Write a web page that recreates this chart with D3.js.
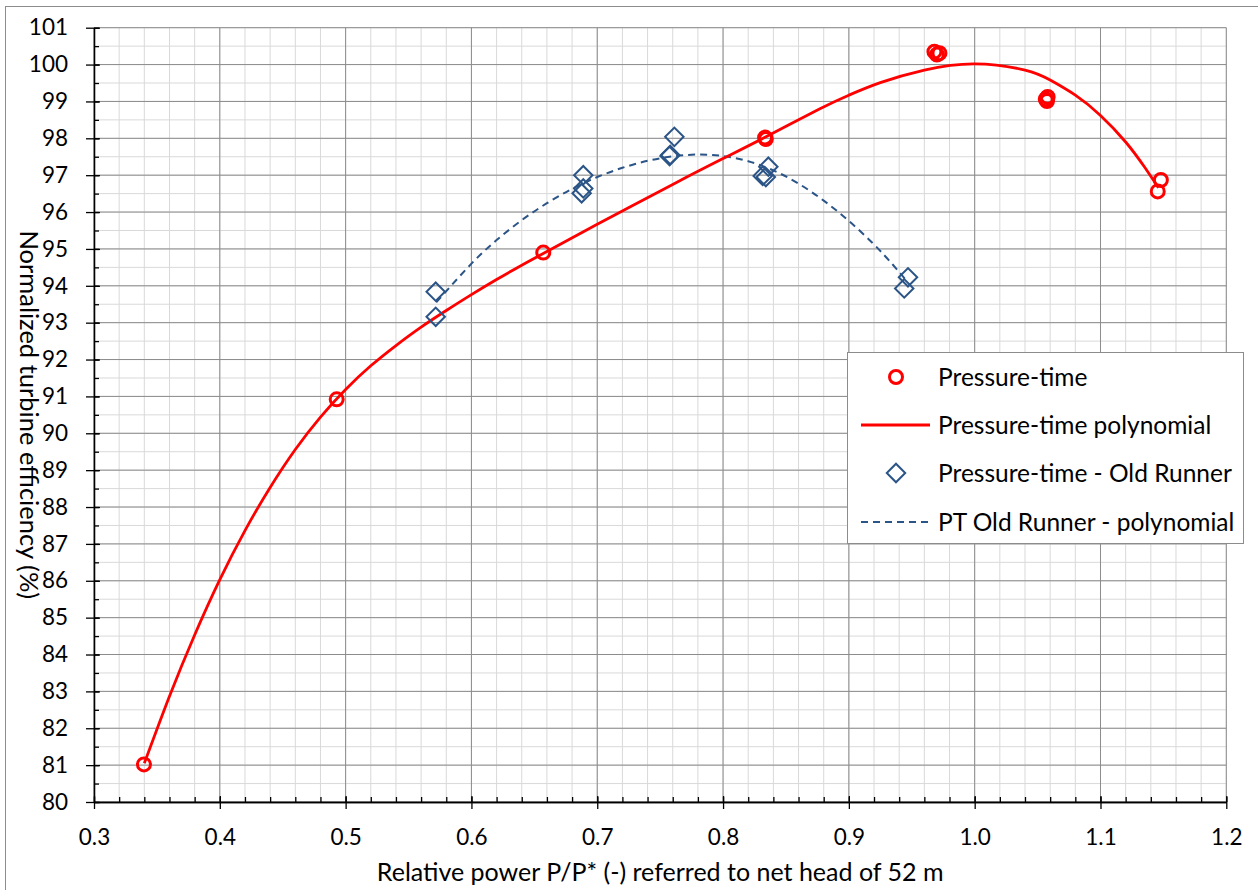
<!DOCTYPE html>
<html>
<head>
<meta charset="utf-8">
<script src="https://cdn.jsdelivr.net/npm/d3@7"></script>
<style>
  body { margin: 0; background: #fff; }
  svg text { font-family: Lato, "Open Sans", sans-serif; fill: #000; }
  .grid-minor line { stroke: #d9d9d9; }
  .grid-major line { stroke: #8c8c8c; }
  .axis path, .axis line { stroke: #000; stroke-width: 1.3; }
  .axis text { font-size: 22.5px; }
</style>
</head>
<body>
<div id="chart"></div>
<script>
// tick values
const xTicks = [0.3, 0.4, 0.5, 0.6, 0.7, 0.8, 0.9, 1.0, 1.1, 1.2]
const yTicks = [80, 81, 82, 83, 84, 85, 86, 87, 88, 89, 90, 91, 92, 93, 94, 95, 96, 97, 98, 99, 100, 101]

// Pressure-time measurements
const ptX = [0.3397, 0.4929, 0.6571, 0.8334, 0.8340, 0.9680, 0.9700, 0.9720, 1.0565, 1.0580, 1.0575, 1.1480, 1.1455]
const ptY = [81.02, 90.92, 94.90, 98.02, 97.98, 100.35, 100.27, 100.31, 99.06, 99.12, 99.01, 96.87, 96.56]

// Pressure-time polynomial
const ptPolyX = [0.340, 0.360, 0.380, 0.400, 0.420, 0.440, 0.460, 0.480, 0.500, 0.520, 0.540, 0.560, 0.580, 0.600, 0.620, 0.640, 0.660, 0.700, 0.760, 0.800, 0.833, 0.877, 0.900, 0.925, 0.960, 1.000, 1.040, 1.060, 1.080, 1.100, 1.120, 1.135, 1.146]
const ptPolyY = [81.05, 82.87, 84.53, 86.03, 87.36, 88.53, 89.56, 90.44, 91.19, 91.83, 92.38, 92.88, 93.33, 93.76, 94.17, 94.56, 94.93, 95.67, 96.75, 97.45, 98.02, 98.80, 99.17, 99.51, 99.85, 100.02, 99.85, 99.58, 99.17, 98.62, 97.90, 97.22, 96.66]

// Pressure-time - Old Runner measurements
const oldX = [0.5716, 0.5716, 0.6889, 0.6889, 0.6876, 0.7613, 0.7580, 0.7575, 0.8360, 0.8315, 0.8340, 0.9440, 0.9470]
const oldY = [93.84, 93.16, 97.00, 96.64, 96.51, 98.04, 97.55, 97.52, 97.23, 96.98, 96.95, 93.93, 94.23]

// PT Old Runner - polynomial
const oldPolyX = [0.572, 0.600, 0.620, 0.640, 0.660, 0.680, 0.700, 0.720, 0.740, 0.760, 0.780, 0.800, 0.820, 0.840, 0.860, 0.880, 0.900, 0.920, 0.935, 0.946]
const oldPolyY = [93.55, 94.60, 95.24, 95.78, 96.24, 96.63, 96.95, 97.20, 97.39, 97.51, 97.56, 97.52, 97.38, 97.13, 96.77, 96.31, 95.76, 95.12, 94.57, 94.13]

const legendLabels = ['Pressure-time', 'Pressure-time polynomial', 'Pressure-time - Old Runner', 'PT Old Runner - polynomial']

const RED = '#ff0000'
const BLUE = '#2b5487'

var width = 1258, height = 890
var plot = {left: 94, right: 1226.3, top: 27.7, bottom: 802}

var svg = d3.select('#chart').append('svg')
    .attr('width', width)
    .attr('height', height)

// chart border
svg.append('rect')
    .attr('x', 5.5).attr('y', 6.5)
    .attr('width', width).attr('height', height)
    .attr('fill', '#fff')
    .attr('stroke', '#8c8c8c')

var x = d3.scaleLinear().domain([0.3, 1.2]).range([plot.left, plot.right])
var y = d3.scaleLinear().domain([80, 101]).range([plot.bottom, plot.top])

var xMinor = d3.range(0, 46).map(i => 0.3 + i * 0.02)
var yMinor = d3.range(0, 43).map(i => 80 + i * 0.5)

// gridlines, minor first then major
svg.append('g').attr('class', 'grid-minor')
  .selectAll('line').data(xMinor).enter().append('line')
    .attr('x1', d => x(d)).attr('x2', d => x(d))
    .attr('y1', plot.top).attr('y2', plot.bottom)
svg.append('g').attr('class', 'grid-minor')
  .selectAll('line').data(yMinor).enter().append('line')
    .attr('x1', plot.left).attr('x2', plot.right)
    .attr('y1', d => y(d)).attr('y2', d => y(d))
svg.append('g').attr('class', 'grid-major')
  .selectAll('line').data(xTicks).enter().append('line')
    .attr('x1', d => x(d)).attr('x2', d => x(d))
    .attr('y1', plot.top).attr('y2', plot.bottom)
svg.append('g').attr('class', 'grid-major')
  .selectAll('line').data(yTicks).enter().append('line')
    .attr('x1', plot.left).attr('x2', plot.right)
    .attr('y1', d => y(d)).attr('y2', d => y(d))

// axes: inside ticks (minor + major), then outside major ticks with labels
svg.append('g')
    .attr('class', 'axis')
    .attr('transform', 'translate(0,' + plot.bottom + ')')
    .call(d3.axisBottom(x).tickValues(xMinor).tickSize(-5).tickSizeOuter(0).tickFormat(''))
svg.append('g')
    .attr('class', 'axis')
    .attr('transform', 'translate(0,' + plot.bottom + ')')
    .call(d3.axisBottom(x).tickValues(xTicks).tickSize(7).tickSizeOuter(0).tickPadding(20).tickFormat(d3.format('.1f')))
  .selectAll('.tick line').attr('y1', -6)

svg.append('g')
    .attr('class', 'axis')
    .attr('transform', 'translate(' + plot.left + ',0)')
    .call(d3.axisLeft(y).tickValues(yMinor).tickSize(-5).tickSizeOuter(0).tickFormat(''))
svg.append('g')
    .attr('class', 'axis')
    .attr('transform', 'translate(' + plot.left + ',0)')
    .call(d3.axisLeft(y).tickValues(yTicks).tickSize(8).tickSizeOuter(0).tickPadding(18).tickFormat(d3.format('d')))
  .selectAll('.tick line').attr('x1', 6)

svg.selectAll('.axis .domain').attr('stroke', '#000')

// axis titles
svg.append('text')
    .attr('x', (plot.left + plot.right) / 2)
    .attr('y', 881)
    .attr('text-anchor', 'middle')
    .style('font-size', '25px')
    .text('Relative power P/P* (-) referred to net head of 52 m')

svg.append('text')
    .attr('transform', 'translate(20,' + ((plot.top + plot.bottom) / 2) + ') rotate(90)')
    .attr('text-anchor', 'middle')
    .style('font-size', '25.5px')
    .text('Normalized turbine efficiency (%)')

// curves
var ptPoly = ptPolyX.map((d, i) => ({x: d, y: ptPolyY[i]}))
var oldPoly = oldPolyX.map((d, i) => ({x: d, y: oldPolyY[i]}))

var line = d3.line()
    .x(d => x(d.x))
    .y(d => y(d.y))
    .curve(d3.curveNatural)

svg.append('path')
    .datum(oldPoly)
    .attr('fill', 'none')
    .attr('stroke', BLUE)
    .attr('stroke-width', 2)
    .attr('stroke-dasharray', '7,5')
    .attr('d', line)

svg.append('path')
    .datum(ptPoly)
    .attr('fill', 'none')
    .attr('stroke', RED)
    .attr('stroke-width', 2.8)
    .attr('d', line)

// markers
var diamond = d3.symbol().type(d3.symbolSquare).size(170)

svg.append('g')
  .selectAll('path')
    .data(oldX.map((d, i) => ({x: d, y: oldY[i]})))
  .enter().append('path')
    .attr('d', diamond)
    .attr('transform', d => 'translate(' + x(d.x) + ',' + y(d.y) + ') rotate(45)')
    .attr('fill', 'none')
    .attr('stroke', BLUE)
    .attr('stroke-width', 2)

svg.append('g')
  .selectAll('circle')
    .data(ptX.map((d, i) => ({x: d, y: ptY[i]})))
  .enter().append('circle')
    .attr('cx', d => x(d.x))
    .attr('cy', d => y(d.y))
    .attr('r', 6.5)
    .attr('fill', 'none')
    .attr('stroke', RED)
    .attr('stroke-width', 3)

// legend
var legend = svg.append('g')
legend.append('rect')
    .attr('x', 847.5).attr('y', 352.5)
    .attr('width', 396).attr('height', 191)
    .attr('fill', '#fff')
    .attr('stroke', '#8c8c8c')

var rowY = [377, 425, 473, 522]

legend.append('circle')
    .attr('cx', 896).attr('cy', rowY[0]).attr('r', 6.5)
    .attr('fill', 'none').attr('stroke', RED).attr('stroke-width', 3)
legend.append('line')
    .attr('x1', 861).attr('x2', 930).attr('y1', rowY[1]).attr('y2', rowY[1])
    .attr('stroke', RED).attr('stroke-width', 2.8)
legend.append('path')
    .attr('d', diamond)
    .attr('transform', 'translate(896,' + rowY[2] + ') rotate(45)')
    .attr('fill', 'none').attr('stroke', BLUE).attr('stroke-width', 2)
legend.append('line')
    .attr('x1', 861).attr('x2', 930).attr('y1', rowY[3]).attr('y2', rowY[3])
    .attr('stroke', BLUE).attr('stroke-width', 2).attr('stroke-dasharray', '7,5')

legend.selectAll('text.label')
    .data(legendLabels)
  .enter().append('text')
    .attr('class', 'label')
    .attr('x', 938)
    .attr('y', (d, i) => rowY[i])
    .attr('dy', '0.36em')
    .style('font-size', '24.5px')
    .text(d => d)
</script>
</body>
</html>
